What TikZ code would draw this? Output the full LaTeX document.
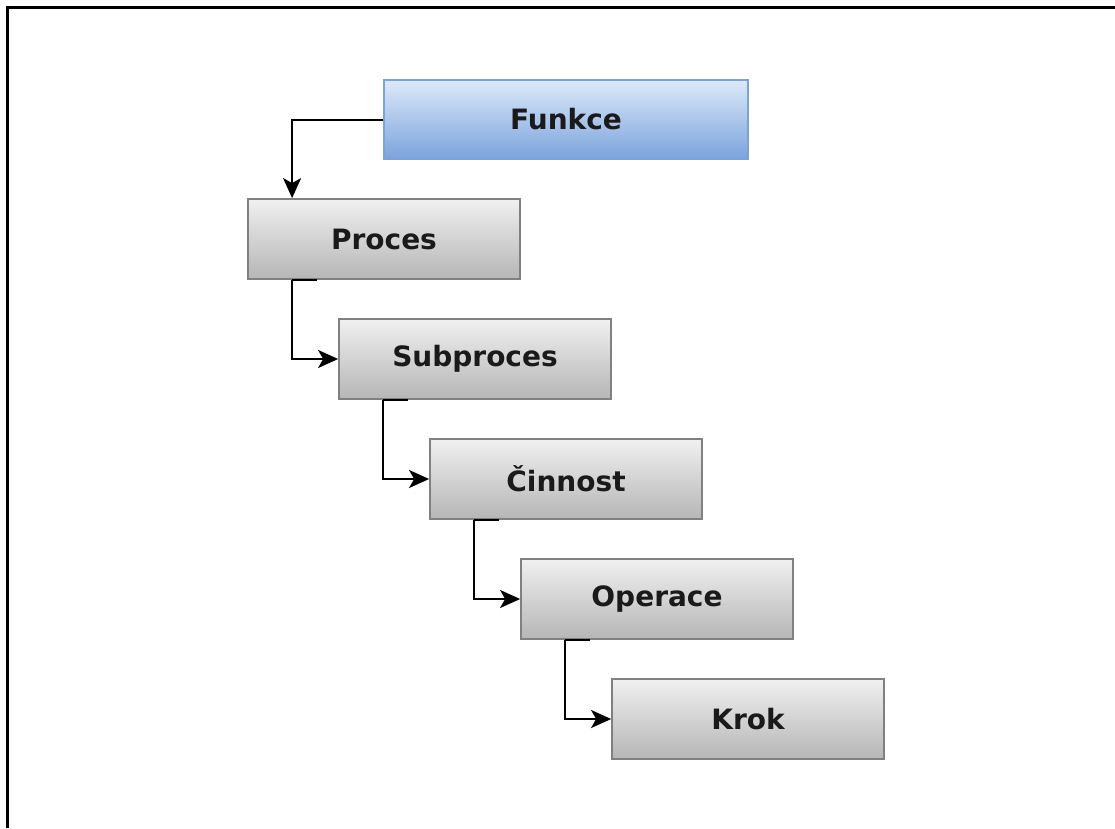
\documentclass[tikz,border=0pt]{standalone}
\usepackage{fontspec}
\setmainfont{DejaVu Sans}
\usetikzlibrary{calc,arrows.meta}

\definecolor{grayTop}{HTML}{F0F0F0}
\definecolor{grayBot}{HTML}{B6B6B6}
\definecolor{grayEdge}{HTML}{808080}
\definecolor{blueTop}{HTML}{DCE9FA}
\definecolor{blueBot}{HTML}{7BA3DC}
\definecolor{blueEdge}{HTML}{7FA2D4}
\definecolor{labelInk}{HTML}{1A1A1A}

\tikzset{
  level/.style={rectangle, draw=grayEdge, line width=1.8pt,
    top color=grayTop, bottom color=grayBot,
    minimum width=272pt, minimum height=80pt, inner sep=0pt,
    font=\fontsize{28}{32}\selectfont\bfseries, text=labelInk},
  toplevel/.style={level, draw=blueEdge, top color=blueTop, bottom color=blueBot,
    minimum width=364pt, minimum height=79pt},
  conn/.style={draw=black, line width=2pt, line cap=butt,
    -{Stealth[length=20pt,width=18pt,inset=5pt]}},
  stub/.style={draw=black, line width=2pt}
}

\begin{document}
\begin{tikzpicture}[x=1pt,y=-1pt]
  \useasboundingbox (0,0) rectangle (1115,828);
  % page frame: top and left rules only
  \draw[line width=3pt] (7,828) -- (7,7) -- (1115,7);

  \node[toplevel] (funkce)    at (566,119.5) {Funkce};
  \node[level]    (proces)    at (384,239) {Proces};
  \node[level]    (subproces) at (475,359) {Subproces};
  \node[level]    (cinnost)   at (566,479) {Činnost};
  \node[level]    (operace)   at (657,599) {Operace};
  \node[level]    (krok)      at (748,719) {Krok};

  % Funkce feeds the first level from its left side
  \coordinate (procIn) at ($(proces.north west)+(45,0)$);
  \draw[conn] (funkce.west) -| (procIn);

  % each level drops down and enters the next one from the left
  \foreach \a/\b in {proces/subproces, subproces/cinnost, cinnost/operace, operace/krok}{
    \draw[stub] ($(\a.south west)+(45,0)$) -- ($(\a.south west)+(70,0)$);
    \draw[conn] ($(\a.south west)+(45,0)$) |- (\b.west);
  }
\end{tikzpicture}
\end{document}
